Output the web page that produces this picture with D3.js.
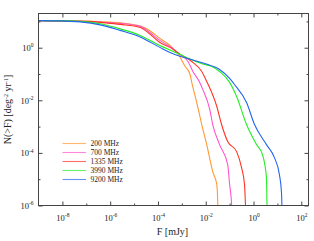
<!DOCTYPE html>
<html>
<head>
<meta charset="utf-8">
<script src="https://cdn.jsdelivr.net/npm/d3@7"></script>
<style>
body { margin: 0; background: #fff; }
text { font-family: "Liberation Serif", "DejaVu Serif", serif; fill: #222; }
</style>
</head>
<body>
<div id="chart"></div>
<script>
// series labels and colours
var freqs = ["200 MHz", "700 MHz", "1335 MHz", "3990 MHz", "9200 MHz"];
var colors = ["#ff9933", "#ff55cc", "#ff3322", "#22ee22", "#2266ee"];

// flux F [mJy] and N(>F) [deg^-2 yr^-1]
var flux200 = [1e-9, 3.8e-7, 2.6e-6, 1.8e-5, 4.6e-5, 1.2e-4, 3.2e-4, 8.3e-4, 1.3e-3, 2.2e-3, 2.6e-3, 4.6e-3, 6.8e-3, 1.1e-2, 1.96e-2, 2.9e-2, 3.2e-2, 3.3e-2];
var count200 = [10.7, 9.8, 8.95, 6.65, 4.45, 2.26, 1.22, 0.45, 0.21, 0.096, 0.048, 5.8e-3, 1.2e-3, 2.07e-4, 1.94e-5, 6.2e-6, 1.07e-6, 3.2e-7];

var flux700 = [1e-9, 3.8e-7, 2.6e-6, 1.8e-5, 4.6e-5, 1.2e-4, 3.2e-4, 8.3e-4, 1.8e-3, 2.9e-3, 5.6e-3, 7.5e-3, 1.47e-2, 1.96e-2, 3.8e-2, 8.3e-2, 0.1, 0.121, 0.126];
var count700 = [10.7, 9.4, 8.4, 6.5, 3.8, 1.9, 1.12, 0.56, 0.30, 0.125, 0.048, 0.026, 4.5e-3, 1.2e-3, 2.07e-4, 3.6e-5, 6.2e-6, 1.07e-6, 4e-7];

var flux1335 = [1e-9, 1.47e-7, 3.8e-7, 2.6e-6, 1.8e-5, 4.6e-5, 1.2e-4, 3.2e-4, 8.3e-4, 2.6e-3, 6.8e-3, 1.1e-2, 2.9e-2, 4.6e-2, 8.3e-2, 0.196, 0.316, 0.42, 0.46, 0.48];
var count1335 = [10.7, 10.0, 9.2, 7.7, 5.9, 3.3, 1.59, 1.03, 0.56, 0.30, 0.125, 0.052, 5.8e-3, 1.2e-3, 2.7e-4, 1.12e-4, 2.75e-5, 6.2e-6, 1.07e-6, 4e-7];

var flux3990 = [1e-9, 2.15e-8, 5.6e-8, 3.8e-7, 2.6e-6, 1.8e-5, 1.2e-4, 3.2e-4, 8.3e-4, 2.2e-3, 7.5e-3, 1.8e-2, 3.8e-2, 0.1, 0.196, 0.51, 1.33, 2.37, 3.48, 3.65, 3.7];
var count3990 = [10.7, 10.5, 10.0, 8.1, 5.2, 2.94, 1.22, 0.82, 0.56, 0.37, 0.24, 0.194, 0.125, 0.048, 0.014, 1.2e-3, 2.07e-4, 8.6e-5, 1.15e-5, 1.07e-6, 4e-7];

var flux9200 = [1e-9, 8.3e-9, 5.6e-8, 3.8e-7, 2.6e-6, 1.8e-5, 1.2e-4, 3.2e-4, 8.3e-4, 2.9e-3, 9.1e-3, 3.8e-2, 0.1, 0.16, 0.51, 1.1, 3.48, 7.5, 12.1, 14.7, 15.4, 15.5];
var count9200 = [10.7, 10.5, 9.6, 7.4, 4.56, 2.58, 1.03, 0.66, 0.47, 0.34, 0.25, 0.149, 0.068, 0.040, 8.2e-3, 1.2e-3, 2.07e-4, 6.6e-5, 1.5e-5, 3.4e-6, 1.07e-6, 4e-7];

// tick exponents
var xMajor = [-8, -6, -4, -2, 0, 2];
var xMinor = [-7, -5, -3, -1, 1];
var yMajor = [0, -2, -4, -6];
var yMinor = [1, -1, -3, -5];

var fluxes = [flux200, flux700, flux1335, flux3990, flux9200];
var counts = [count200, count700, count1335, count3990, count9200];

var width = 314;
var height = 241;
var margin = {top: 13.5, right: 5.5, bottom: 35.5, left: 38.5};

var svg = d3.select("#chart").append("svg")
  .attr("width", width)
  .attr("height", height);

var x = d3.scaleLog().domain([1e-9, 200]).range([margin.left, width - margin.right]);
var y = d3.scaleLog().domain([1e-6, 20]).range([height - margin.bottom, margin.top]);

var pow = function(e) { return Math.pow(10, e); };

var yBot = y.range()[0], yTop = y.range()[1];
var xLeft = x.range()[0], xRight = x.range()[1];

svg.append("clipPath").attr("id", "clip")
  .append("rect")
  .attr("x", xLeft).attr("y", yTop)
  .attr("width", xRight - xLeft)
  .attr("height", yBot - yTop);

// curves
var line = d3.line()
  .x(function(d) { return x(d[0]); })
  .y(function(d) { return y(d[1]); })
  .curve(d3.curveMonotoneX);

svg.append("g")
  .attr("clip-path", "url(#clip)")
  .selectAll("path")
  .data(freqs)
  .join("path")
    .attr("fill", "none")
    .attr("stroke", function(d, i) { return colors[i]; })
    .attr("stroke-width", 1.1)
    .attr("d", function(d, i) {
      return line(d3.zip(fluxes[i], counts[i]));
    });

// superscript labels like 10^-2
function powLabel(sel) {
  sel.each(function(d) {
    var e = Math.round(Math.log10(d));
    var t = d3.select(this).text(null);
    t.append("tspan").text("10");
    t.append("tspan").attr("dy", -3.5).attr("font-size", 5.5).text(e);
  });
}

function styleAxis(g) {
  g.select(".domain").remove();
  g.selectAll(".tick line").attr("stroke", "#444");
}

// bottom
svg.append("g").attr("transform", "translate(0," + yBot + ")")
  .call(d3.axisBottom(x).tickValues(xMinor.map(pow)).tickSize(-2).tickFormat(""))
  .call(styleAxis);
svg.append("g").attr("transform", "translate(0," + yBot + ")")
  .call(d3.axisBottom(x).tickValues(xMajor.map(pow)).tickSize(-4).tickPadding(9))
  .call(styleAxis)
  .call(function(g) {
    g.selectAll(".tick text").attr("font-size", 8.5).attr("font-family", "Liberation Serif")
      .attr("fill", "#222").call(powLabel);
  });

// top
svg.append("g").attr("transform", "translate(0," + yTop + ")")
  .call(d3.axisTop(x).tickValues(xMinor.map(pow)).tickSize(-2).tickFormat(""))
  .call(styleAxis);
svg.append("g").attr("transform", "translate(0," + yTop + ")")
  .call(d3.axisTop(x).tickValues(xMajor.map(pow)).tickSize(-4).tickFormat(""))
  .call(styleAxis);

// left
svg.append("g").attr("transform", "translate(" + xLeft + ",0)")
  .call(d3.axisLeft(y).tickValues(yMinor.map(pow)).tickSize(-2).tickFormat(""))
  .call(styleAxis);
svg.append("g").attr("transform", "translate(" + xLeft + ",0)")
  .call(d3.axisLeft(y).tickValues(yMajor.map(pow)).tickSize(-4).tickPadding(5))
  .call(styleAxis)
  .call(function(g) {
    g.selectAll(".tick text").attr("font-size", 8.5).attr("font-family", "Liberation Serif")
      .attr("fill", "#222").call(powLabel);
  });

// right
svg.append("g").attr("transform", "translate(" + xRight + ",0)")
  .call(d3.axisRight(y).tickValues(yMinor.map(pow)).tickSize(-2).tickFormat(""))
  .call(styleAxis);
svg.append("g").attr("transform", "translate(" + xRight + ",0)")
  .call(d3.axisRight(y).tickValues(yMajor.map(pow)).tickSize(-4).tickFormat(""))
  .call(styleAxis);

// frame
svg.append("rect")
  .attr("x", xLeft).attr("y", yTop)
  .attr("width", xRight - xLeft).attr("height", yBot - yTop)
  .attr("fill", "none").attr("stroke", "#444").attr("stroke-width", 1);

// axis titles
svg.append("text")
  .attr("x", (xLeft + xRight) / 2 - 1).attr("y", 235)
  .attr("text-anchor", "middle").attr("font-size", 10)
  .text("F [mJy]");

var yt = svg.append("text")
  .attr("transform", "translate(11," + ((yTop + yBot) / 2) + ") rotate(-90)")
  .attr("text-anchor", "middle").attr("font-size", 10);
yt.append("tspan").text("N(>F) [deg");
yt.append("tspan").attr("dy", -3.5).attr("font-size", 6).text("-2");
yt.append("tspan").attr("dy", 3.5).text(" yr");
yt.append("tspan").attr("dy", -3.5).attr("font-size", 6).text("-1");
yt.append("tspan").attr("dy", 3.5).text("]");

// legend
var legend = svg.append("g").selectAll("g")
  .data(freqs)
  .join("g")
    .attr("transform", function(d, i) { return "translate(62.5," + (143.5 + i * 9) + ")"; });
legend.append("line")
  .attr("x1", 0).attr("x2", 23.5)
  .attr("stroke", function(d, i) { return colors[i]; })
  .attr("stroke-opacity", 0.7)
  .attr("stroke-width", 1.1);
legend.append("text")
  .attr("x", 28).attr("dy", "0.35em")
  .attr("font-size", 7.5)
  .text(function(d) { return d; });
</script>
</body>
</html>
